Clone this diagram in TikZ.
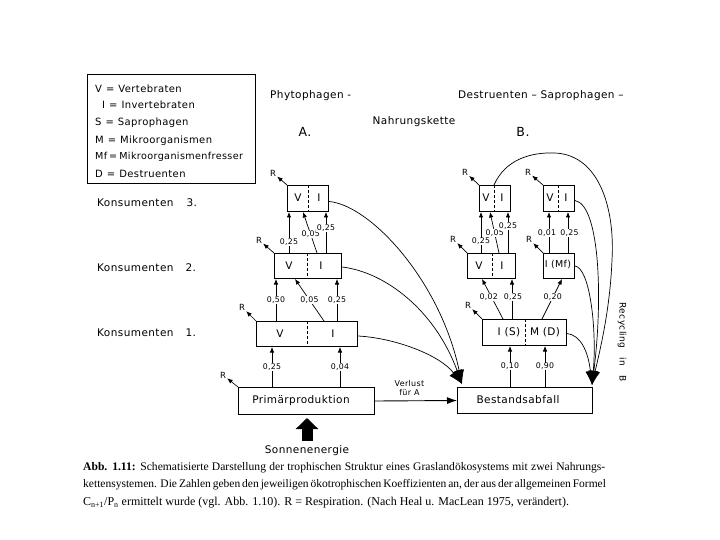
\documentclass[tikz,border=0pt]{standalone}
\usepackage{fontspec}
\setmainfont{Liberation Serif}
\newfontfamily\lf[LetterSpace=4]{DejaVu Sans}
\usetikzlibrary{arrows.meta,calc}
\newcommand{\eqs}{\hspace{4pt}=\hspace{4pt}}
\begin{document}
\begin{tikzpicture}[x=1pt,y=-1pt,
  box/.style={draw,line width=1pt,inner sep=0pt,anchor=north west},
  divider/.style={line width=0.8pt,dash pattern=on 3pt off 2pt},
  arr/.style={line width=0.7pt,-{Latex[length=5.5pt,width=4.5pt]}},
  bigarr/.style={line width=0.7pt,-{Latex[length=14pt,width=10pt]}},
  varr/.style={line width=0.9pt,-{Latex[length=10pt,width=7pt]}},
  sunarr/.style={line width=11pt,-{Triangle[length=11pt,width=22pt]}},
  num/.style={font=\lf\fontsize{7.8}{8}\selectfont,fill=white,inner sep=0.6pt},
  rlab/.style={font=\lf\fontsize{8.5}{9}\selectfont,inner sep=1pt},
  boxtxt/.style={font=\lf\fontsize{10.5}{12}\selectfont,inner sep=0pt},
  legtxt/.style={font=\lf\fontsize{10}{11}\selectfont,anchor=west,inner sep=0pt},
  konsu/.style={font=\lf\fontsize{10.5}{12}\selectfont,anchor=west,inner sep=0pt},
  head/.style={font=\lf\fontsize{10.5}{12}\selectfont,inner sep=0pt},
]
\path[use as bounding box,fill=white] (0,0) rectangle (720,540);

% legend
\node[box,minimum width=168pt,minimum height=109pt,line width=1.1pt] (legend) at (87,74) {};
\node[legtxt] (l1) at (95,89) {V\eqs Vertebraten};
\node[legtxt] (l2) at (102,105) {I\eqs Invertebraten};
\node[legtxt] (l3) at (95,123) {S\eqs Saprophagen};
\node[legtxt] (l4) at (95,141) {M\eqs Mikroorganismen};
\node[legtxt,font=\lf\fontsize{9.6}{11}\selectfont] (l5) at (95,157) {Mf\hspace{2pt}=\hspace{2pt}Mikroorganismenfresser};
\node[legtxt] (l6) at (95,174) {D\eqs Destruenten};

% headings
\node[head,anchor=west] (h1) at (270,96) {Phytophagen -};
\node[head,anchor=west] (h2) at (458,96) {Destruenten – Saprophagen –};
\node[head] (h3) at (414,122) {Nahrungskette};
\node[font=\lf\fontsize{12.5}{13}\selectfont,inner sep=0pt] (hA) at (305,132) {A.};
\node[font=\lf\fontsize{12.5}{13}\selectfont,inner sep=0pt] (hB) at (523,132) {B.};

\node[konsu] (k3) at (97,203) {Konsumenten\hspace{13pt}3.};
\node[konsu] (k2) at (97,268) {Konsumenten\hspace{12pt}2.};
\node[konsu] (k1) at (97,333) {Konsumenten\hspace{12pt}1.};

% boxes A
\node[box,minimum width=41pt,minimum height=26pt] (K3A) at (287,185) {};
\node[box,minimum width=67pt,minimum height=25pt] (K2A) at (274,253) {};
\node[box,minimum width=101pt,minimum height=25pt] (K1A) at (256,321) {};
\node[box,minimum width=136pt,minimum height=27pt] (PP) at (238,387) {};
% boxes B
\node[box,minimum width=31pt,minimum height=26pt] (K3B1) at (479,185) {};
\node[box,minimum width=31pt,minimum height=26pt] (K3B2) at (543,185) {};
\node[box,minimum width=48pt,minimum height=25pt] (K2B1) at (467,253) {};
\node[box,minimum width=31pt,minimum height=25pt] (K2B2) at (543,253) {};
\node[box,minimum width=84pt,minimum height=26pt] (K1B) at (482,319) {};
\node[box,minimum width=135pt,minimum height=26pt] (BA) at (457,387) {};

% dividers
\draw[divider] ([xshift=21pt]K3A.north west) -- ([xshift=21pt]K3A.south west);
\draw[divider] ([xshift=33pt]K2A.north west) -- ([xshift=33pt]K2A.south west);
\draw[divider] ([xshift=51pt]K1A.north west) -- ([xshift=51pt]K1A.south west);
\draw[divider] ([xshift=15pt]K3B1.north west) -- ([xshift=15pt]K3B1.south west);
\draw[divider] ([xshift=15pt]K3B2.north west) -- ([xshift=15pt]K3B2.south west);
\draw[divider] ([xshift=25pt]K2B1.north west) -- ([xshift=25pt]K2B1.south west);
\draw[divider] ([xshift=43pt]K1B.north west) -- ([xshift=43pt]K1B.south west);

% box texts
\node[boxtxt] (t3av) at (298,198) {V};
\node[boxtxt] (t3ai) at (319,198) {I};
\node[boxtxt] (t2av) at (289,266) {V};
\node[boxtxt] (t2ai) at (321,266) {I};
\node[boxtxt] (t1av) at (280,334) {V};
\node[boxtxt] (t1ai) at (333,334) {I};
\node[boxtxt] (tpp) at (301,401) {Primärproduktion};
\node[boxtxt] (t3b1v) at (486,198) {V};
\node[boxtxt] (t3b1i) at (502,198) {I};
\node[boxtxt] (t3b2v) at (550,198) {V};
\node[boxtxt] (t3b2i) at (566,198) {I};
\node[boxtxt] (t2b1v) at (479,266) {V};
\node[boxtxt] (t2b1i) at (502,266) {I};
\node[boxtxt,font=\lf\fontsize{9.5}{11}\selectfont] (t2b2) at (558,265) {I (Mf)};
\node[boxtxt] (t1bs) at (509,332) {I (S)};
\node[boxtxt] (t1bm) at (545,332) {M (D)};
\node[boxtxt] (tba) at (518,400) {Bestandsabfall};

% arrows A
\draw[arr] ([xshift=15pt]K2A.north west) -- node[num,pos=0.26]{0,25} ([xshift=2pt]K3A.south west);
\draw[arr] ([xshift=43pt]K2A.north west) -- node[num,pos=0.45]{0,05} ([xshift=16pt]K3A.south west);
\draw[arr] ([xshift=52pt]K2A.north west) -- node[num,pos=0.62]{0,25} ([xshift=39pt]K3A.south west);
\draw[arr] ([xshift=20pt]K1A.north west) -- node[num,pos=0.5]{0,50} ([xshift=2pt]K2A.south west);
\draw[arr] ([xshift=68pt]K1A.north west) -- node[num,pos=0.5]{0,05} ([xshift=21pt]K2A.south west);
\draw[arr] ([xshift=81pt]K1A.north west) -- node[num,pos=0.5]{0,25} ([xshift=63pt]K2A.south west);
\draw[arr] ([xshift=34pt]PP.north west) -- node[num,pos=0.5]{0,25} ([xshift=16pt]K1A.south west);
\draw[arr] ([xshift=102pt]PP.north west) -- node[num,pos=0.5]{0,04} ([xshift=84pt]K1A.south west);

% arrows B
\draw[arr] ([xshift=53pt]BA.north west) -- node[num,pos=0.5]{0,10} ([xshift=28pt]K1B.south west);
\draw[arr] ([xshift=88pt]BA.north west) -- node[num,pos=0.5]{0,90} ([xshift=63pt]K1B.south west);
\draw[arr] ([xshift=21pt]K1B.north west) -- node[num,pos=0.54,xshift=-3pt]{0,02} ([xshift=15pt]K2B1.south west);
\draw[arr] ([xshift=30pt]K1B.north west) -- node[num,pos=0.54,xshift=1pt]{0,25} ([xshift=45pt]K2B1.south west);
\draw[arr] ([xshift=60pt]K1B.north west) -- node[num,pos=0.54]{0,20} ([xshift=19pt]K2B2.south west);
\draw[arr] ([xshift=14pt]K2B1.north west) -- node[num,pos=0.28]{0,25} ([xshift=2pt]K3B1.south west);
\draw[arr] ([xshift=32pt]K2B1.north west) -- node[num,pos=0.48]{0,05} ([xshift=11pt]K3B1.south west);
\draw[arr] ([xshift=41pt]K2B1.north west) -- node[num,pos=0.65]{0,25} ([xshift=29pt]K3B1.south west);
\draw[arr] ([xshift=6pt]K2B2.north west) -- node[num,pos=0.48,xshift=-2pt]{0,01} ([xshift=6pt]K3B2.south west);
\draw[arr] ([xshift=25pt]K2B2.north west) -- node[num,pos=0.48,xshift=1.5pt]{0,25} ([xshift=25pt]K3B2.south west);

% respiration
\node[rlab] (R3A) at (273,173) {R};
\node[rlab] (R2A) at (259,240) {R};
\node[rlab] (R1A) at (242,307) {R};
\node[rlab] (RPP) at (223,375) {R};
\node[rlab] (R3B1) at (465,172) {R};
\node[rlab] (R3B2) at (528,172) {R};
\node[rlab] (R2B1) at (453,239) {R};
\node[rlab] (R2B2) at (529,239) {R};
\node[rlab] (R1B) at (468,305) {R};
\draw[arr] (K3A.north west) -- (R3A);
\draw[arr] (K2A.north west) -- (R2A);
\draw[arr] (K1A.north west) -- (R1A);
\draw[arr] (PP.north west) -- (RPP);
\draw[arr] (K3B1.north west) -- (R3B1);
\draw[arr] (K3B2.north west) -- (R3B2);
\draw[arr] (K2B1.north west) -- (R2B1);
\draw[arr] (K2B2.north west) -- (R2B2);
\draw[arr] (K1B.north west) -- (R1B);

% losses to Bestandsabfall
\coordinate (tipA) at ([shift={(5pt,3pt)}]BA.north west);
\coordinate (tipB) at ([shift={(-1pt,2pt)}]BA.north east);
\draw[bigarr] ([yshift=-3pt]K3A.east) .. controls (370,205) and (440,280) .. (tipA);
\draw[bigarr] ([yshift=-1pt]K2A.east) .. controls (385,272) and (435,310) .. (tipA);
\draw[bigarr] ([yshift=-2pt]K1A.east) .. controls (395,338) and (440,355) .. (tipA);

\draw[bigarr] ([xshift=15pt]K3B1.north west) .. controls (505,160) and (530,152) .. (555,153)
   .. controls (600,155) and (615,210) .. (612,260) .. controls (610,310) and (600,350) .. (tipB);
\draw[bigarr] ([yshift=-2pt]K3B2.east) .. controls (600,205) and (603,300) .. (tipB);
\draw[bigarr] (K2B2.east) .. controls (590,268) and (597,330) .. (tipB);
\draw[bigarr] ([yshift=-1pt]K1B.east) .. controls (580,335) and (588,350) .. (tipB);

\node[font=\lf\fontsize{9}{10}\selectfont,rotate=-90,inner sep=0pt] (rec) at (622,342) {Recycling\hspace{9pt}in\hspace{9pt}B};

% Verlust
\draw[varr] (PP.east) -- node[font=\lf\fontsize{8}{9}\selectfont,above=1pt,pos=0.42,align=center] (verl) {Verlust\\für A} (BA.west);

% sun
\node[font=\lf\fontsize{10.5}{12}\selectfont,inner sep=2pt] (sun) at (307,451) {Sonnenenergie};
\draw[sunarr] ([yshift=3pt]sun.north) -- ([yshift=-3pt]sun.north |- PP.south);

% caption
\node[anchor=north west,inner sep=0pt,align=left,font=\fontsize{12}{17.5}\selectfont] (cap) at (83,462)
{{\fontsize{11.6}{17.5}\selectfont\makebox[522pt][s]{\textbf{Abb. 1.11:} Schematisierte Darstellung der trophischen Struktur eines Graslandökosystems mit zwei Nahrungs-}}\\
{\fontsize{11.5}{17.5}\selectfont\makebox[522pt][s]{kettensystemen. Die Zahlen geben den jeweiligen ökotrophischen Koeffizienten an, der aus der allgemeinen Formel}}\\
C\textsubscript{n+1}/P\textsubscript{n} ermittelt wurde (vgl. Abb. 1.10). R = Respiration. (Nach Heal u. MacLean 1975, verändert).};
\end{tikzpicture}
\end{document}
